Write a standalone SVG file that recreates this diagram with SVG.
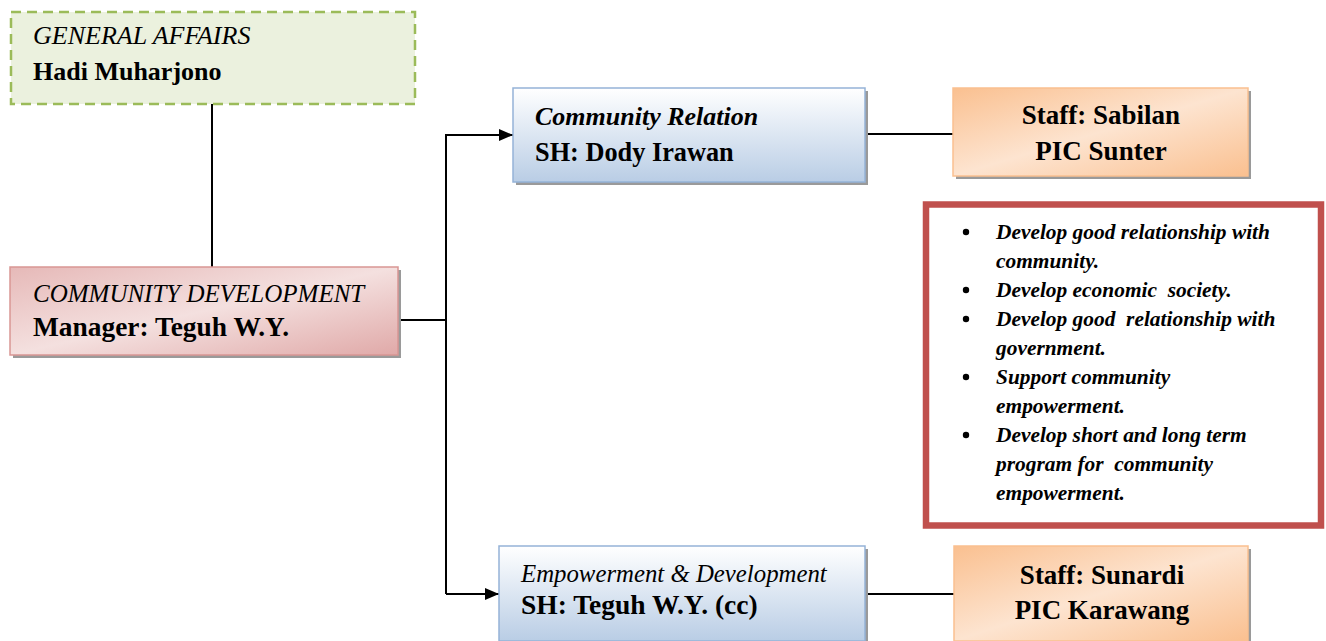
<svg xmlns="http://www.w3.org/2000/svg" width="1326" height="641" viewBox="0 0 1326 641">
<defs>
<style>
.it{font-family:"Liberation Serif","Times New Roman",serif;font-style:italic;font-size:25px;fill:#000}
.bd{font-family:"Liberation Serif","Times New Roman",serif;font-weight:bold;font-size:26px;fill:#000}
.bi{font-family:"Liberation Serif","Times New Roman",serif;font-weight:bold;font-style:italic;font-size:21.4px;fill:#000;white-space:pre}
.shadow{fill:#9a9a9a}
.conn{stroke:#000;stroke-width:2;fill:none}
</style>
<linearGradient id="gPink" x1="0" y1="0" x2="1" y2="1">
<stop offset="0" stop-color="#e6b9b8"/>
<stop offset="0.5" stop-color="#f4e0df"/>
<stop offset="1" stop-color="#e0a9a8"/>
</linearGradient>
<linearGradient id="gBlue" x1="0" y1="0" x2="0" y2="1">
<stop offset="0" stop-color="#ffffff"/>
<stop offset="1" stop-color="#b9cde5"/>
</linearGradient>
<linearGradient id="gOrange" x1="0" y1="0" x2="1" y2="1">
<stop offset="0" stop-color="#fac090"/>
<stop offset="0.5" stop-color="#fde4d0"/>
<stop offset="1" stop-color="#fac090"/>
</linearGradient>
<marker id="arr" markerWidth="14" markerHeight="12" refX="14" refY="6" orient="auto" markerUnits="userSpaceOnUse">
<path d="M0,0 L14,6 L0,12 Z" fill="#000"/>
</marker>
</defs>

<g id="connectors">
<line class="conn" x1="212" y1="104" x2="212" y2="267"/>
<polyline class="conn" points="398,320 446,320"/>
<polyline class="conn" points="446,594 446,135 513,135" marker-end="url(#arr)"/>
<polyline class="conn" points="446,594 499,594" marker-end="url(#arr)"/>
<line class="conn" x1="866" y1="134" x2="953" y2="134"/>
<line class="conn" x1="866" y1="594" x2="954" y2="594"/>
</g>

<g id="general-affairs">
<rect x="11" y="12" width="404" height="92" fill="#ebf1de" stroke="#9bbb59" stroke-width="2.5" stroke-dasharray="10,6"/>
<text class="it" x="33" y="44" style="font-size:26px">GENERAL AFFAIRS</text>
<text class="bd" x="33" y="80">Hadi Muharjono</text>
</g>

<g id="community-development">
<rect class="shadow" x="13" y="270" width="388" height="88"/>
<rect x="10" y="267" width="388" height="88" fill="url(#gPink)" stroke="#d99694" stroke-width="1.5"/>
<text class="it" x="33" y="302">COMMUNITY DEVELOPMENT</text>
<text class="bd" x="33" y="336" style="font-size:27.4px">Manager: Teguh W.Y.</text>
</g>

<g id="community-relation">
<rect class="shadow" x="516" y="91" width="352" height="94"/>
<rect x="513" y="88" width="352" height="94" fill="url(#gBlue)" stroke="#95b3d7" stroke-width="1.5"/>
<text class="it" x="535" y="125" style="font-size:26px;font-weight:bold">Community Relation</text>
<text class="bd" x="535" y="161" style="font-size:26.3px">SH: Dody Irawan</text>
</g>

<g id="staff-sabilan">
<rect class="shadow" x="956" y="91" width="295" height="88"/>
<rect x="953" y="88" width="295" height="88" fill="url(#gOrange)" stroke="#fac090" stroke-width="1.5"/>
<text class="bd" x="1101" y="124" text-anchor="middle" style="font-size:27px">Staff: Sabilan</text>
<text class="bd" x="1101" y="160" text-anchor="middle" style="font-size:27px">PIC Sunter</text>
</g>

<g id="tasks">
<rect x="926" y="204.5" width="395" height="321" fill="#fff" stroke="#c0504d" stroke-width="6.5"/>
<g fill="#000">
<circle cx="966" cy="232" r="3.2"/>
<circle cx="966" cy="290" r="3.2"/>
<circle cx="966" cy="319" r="3.2"/>
<circle cx="966" cy="377" r="3.2"/>
<circle cx="966" cy="435" r="3.2"/>
</g>
<text class="bi" x="996" y="239">Develop good relationship with</text>
<text class="bi" x="996" y="268">community.</text>
<text class="bi" x="996" y="297" xml:space="preserve">Develop economic  society.</text>
<text class="bi" x="996" y="326" xml:space="preserve">Develop good  relationship with</text>
<text class="bi" x="996" y="355">government.</text>
<text class="bi" x="996" y="384">Support community</text>
<text class="bi" x="996" y="413">empowerment.</text>
<text class="bi" x="996" y="442">Develop short and long term</text>
<text class="bi" x="996" y="471" xml:space="preserve">program for  community</text>
<text class="bi" x="996" y="500">empowerment.</text>
</g>

<g id="empowerment-development">
<rect class="shadow" x="502" y="549" width="366" height="95"/>
<rect x="499" y="546" width="366" height="95" fill="url(#gBlue)" stroke="#95b3d7" stroke-width="1.5"/>
<text class="it" x="521" y="582" style="font-size:24.8px">Empowerment &amp; Development</text>
<text class="bd" x="521" y="614" style="font-size:27.5px">SH: Teguh W.Y. (cc)</text>
</g>

<g id="staff-sunardi">
<rect class="shadow" x="957" y="549" width="294" height="95"/>
<rect x="954" y="546" width="294" height="95" fill="url(#gOrange)" stroke="#fac090" stroke-width="1.5"/>
<text class="bd" x="1102" y="584" text-anchor="middle" style="font-size:27px">Staff: Sunardi</text>
<text class="bd" x="1102" y="619" text-anchor="middle" style="font-size:27px">PIC Karawang</text>
</g>
</svg>
